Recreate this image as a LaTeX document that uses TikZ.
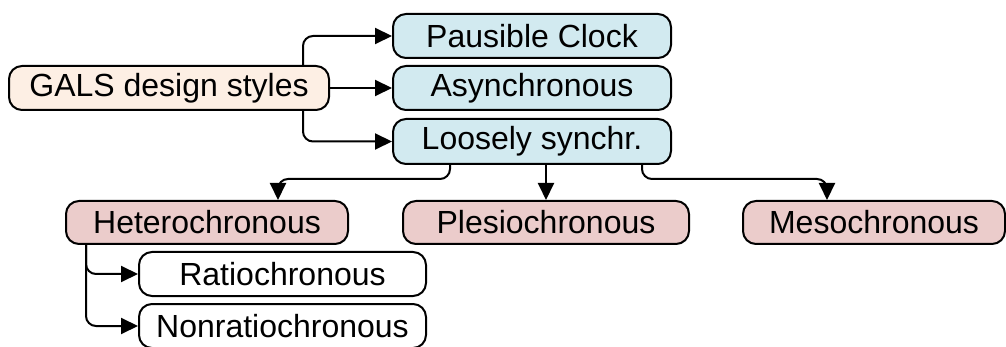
\documentclass[tikz,border=0pt]{standalone}
\usepackage{fontspec}
\setmainfont{Liberation Sans}
\usetikzlibrary{arrows.meta}
\definecolor{rootfill}{RGB}{253,239,228}
\definecolor{bluefill}{RGB}{210,234,240}
\definecolor{pinkfill}{RGB}{235,204,203}
\tikzset{
  box/.style={draw=black, line width=2pt, rounded corners=13pt, minimum height=44pt,
    inner sep=0pt, font=\fontsize{32}{34}\selectfont, anchor=center},
  arr/.style={draw=black, line width=2pt, rounded corners=10pt,
    -{Triangle[length=17pt,width=16pt]}},
}
\begin{document}
\begin{tikzpicture}[x=1pt,y=-1pt]
\useasboundingbox (0,0) rectangle (1006,347);
% top level
\node[box, fill=rootfill, minimum width=320pt] (gals) at (169,88) {GALS design styles};
\node[box, fill=bluefill, minimum width=278pt] (pc) at (532,36) {Pausible Clock};
\node[box, fill=bluefill, minimum width=278pt] (as) at (532,88) {Asynchronous};
\node[box, fill=bluefill, minimum width=278pt, minimum height=45pt] (ls) at (532,141.5) {Loosely synchr.};
% second level
\node[box, fill=pinkfill, minimum width=282pt, minimum height=43pt] (het) at (207,222.5) {Heterochronous};
\node[box, fill=pinkfill, minimum width=286pt, minimum height=43pt] (ple) at (546,222.5) {Plesiochronous};
\node[box, fill=pinkfill, minimum width=262pt, minimum height=43pt] (mes) at (874,222.5) {Mesochronous};
% third level
\node[box, fill=white, minimum width=287pt] (rat) at (282.5,274) {Ratiochronous};
\node[box, fill=white, minimum width=287pt] (non) at (282.5,326) {Nonratiochronous};
% branch points
\coordinate (gsplit) at (303,88);
\coordinate (lleft) at (450,179);
\coordinate (lright) at (642,179);
\coordinate (hin) at (278,0);
\coordinate (min) at (827,0);
\coordinate (hsplit) at (86,0);
% connectors
\draw[arr] (gsplit |- gals.north) |- (pc.west);
\draw[arr] (gals.east) -- (as.west);
\draw[arr] (gsplit |- gals.south) |- (ls.west);
\draw[arr] (lleft |- ls.south) |- (hin |- lleft) -- (hin |- het.north);
\draw[arr] (ple.north |- ls.south) -- (ple.north);
\draw[arr] (lright |- ls.south) |- (min |- lright) -- (min |- mes.north);
\draw[arr] (hsplit |- het.south) |- (rat.west);
\draw[arr] (hsplit |- het.south) |- (non.west);
\end{tikzpicture}
\end{document}
